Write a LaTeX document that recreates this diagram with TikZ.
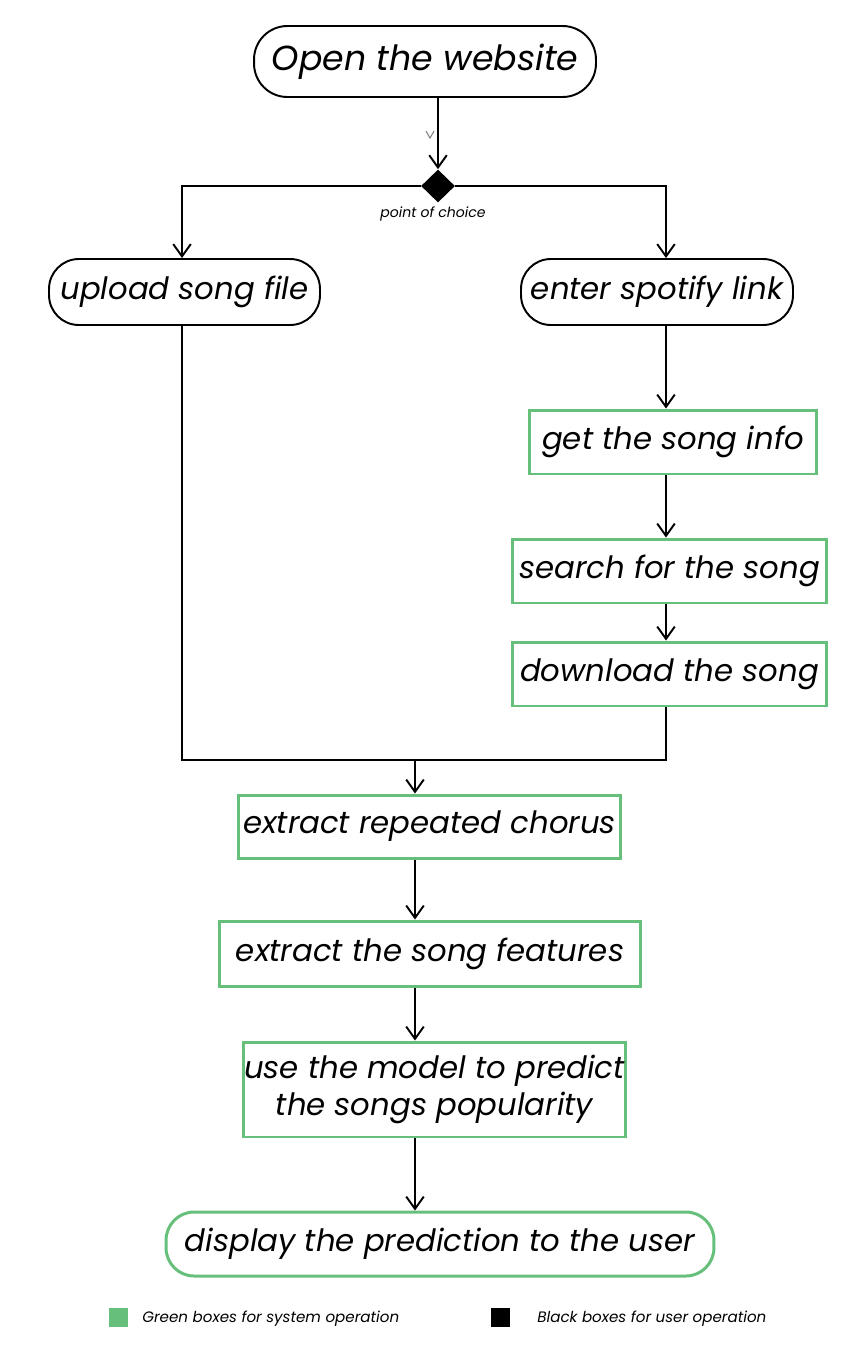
\documentclass[tikz,border=0pt]{standalone}
\usepackage{fontspec}
\setmainfont{Poppins}
\usetikzlibrary{arrows.meta, shapes.geometric}
\definecolor{mint}{RGB}{102,191,122}
\tikzset{every node/.style={font=\itshape}}
\tikzset{
	flow/.style={line width=1.1pt, -{Straight Barb[length=7pt,width=10pt,line width=1.1pt]}},
	userbox/.style={draw=black, line width=1.1pt, rounded corners=17pt, inner sep=0pt, font=\fontsize{17.5}{21}\itshape},
	sysbox/.style={draw=mint, line width=1.7pt, inner sep=0pt, align=center, font=\fontsize{17.5}{21}\itshape},
}

\begin{document}
\begin{tikzpicture}[x=0.02cm, y=-0.02cm]
			\useasboundingbox (0,0) rectangle (850,1350);
			% user steps
			\node[userbox, rounded corners=19pt, minimum width=6.84cm, minimum height=1.42cm, font=\fontsize{19.8}{24}\itshape] (open) at (425,61.5) {Open the website};
			\node[diamond, fill=black, inner sep=0pt, minimum width=0.68cm, minimum height=0.66cm] (choice) at (438,186) {};
			\node[font=\fontsize{8}{10}\itshape] (choicelbl) at (433,214) {point of choice};
			\node[userbox, minimum width=5.42cm, minimum height=1.32cm] (upload) at (184.5,292) {upload song file};
			\node[userbox, minimum width=5.44cm, minimum height=1.32cm] (spotify) at (657,292) {enter spotify link};
			% system steps
			\node[sysbox, minimum width=5.76cm, minimum height=1.28cm] (info) at (673,442) {get the song info};
			\node[sysbox, minimum width=6.3cm, minimum height=1.28cm] (search) at (669.5,571) {search for the song};
			\node[sysbox, minimum width=6.3cm, minimum height=1.28cm] (download) at (669.5,674) {download the song};
			\node[sysbox, minimum width=7.66cm, minimum height=1.26cm] (chorus) at (429.5,826.5) {extract repeated chorus};
			\node[sysbox, minimum width=8.44cm, minimum height=1.3cm] (features) at (430,953.5) {extract the song features};
			\node[sysbox, minimum width=7.66cm, minimum height=1.9cm] (model) at (434.5,1089.5) {use the model to predict\\ the songs popularity};
			\node[sysbox, rounded corners=16pt, minimum width=10.96cm, minimum height=1.28cm] (display) at (440,1244) {display the prediction to the user};
			% columns
			\coordinate (lcol) at (182,0);
			\coordinate (rcol) at (666,0);
			\coordinate (merge) at (415,760);
			% connectors
			\draw[flow] (open.south -| choice) -- (choice.north);
			\draw[gray, line width=0.6pt] (426,131) -- (430,138) -- (434,131);
			\draw[flow] (choice.west) -| (upload.north -| lcol);
			\draw[flow] (choice.east) -| (spotify.north -| rcol);
			\draw[flow] (spotify.south -| rcol) -- (info.north -| rcol);
			\draw[flow] (info.south -| rcol) -- (search.north -| rcol);
			\draw[flow] (search.south -| rcol) -- (download.north -| rcol);
			\draw[line width=1.1pt] (upload.south -| lcol) |- (merge) -| (download.south -| rcol);
			\draw[flow] (merge) -- (chorus.north -| merge);
			\draw[flow] (chorus.south -| merge) -- (features.north -| merge);
			\draw[flow] (features.south -| merge) -- (model.north -| merge);
			\draw[flow] (model.south -| merge) -- (display.north -| merge);
			% legend
			\node[fill=mint, inner sep=0pt, minimum size=0.38cm] (keysys) at (118.5,1317.5) {};
			\node[anchor=west, inner sep=0pt, font=\fontsize{8.6}{11}\itshape] (keysystxt) at (142,1319) {Green boxes for system operation};
			\node[fill=black, inner sep=0pt, minimum size=0.38cm] (keyuser) at (500.5,1317.5) {};
			\node[anchor=west, inner sep=0pt, font=\fontsize{8.6}{11}\itshape] (keyusertxt) at (537,1319) {Black boxes for user operation};
		\end{tikzpicture}
\end{document}
